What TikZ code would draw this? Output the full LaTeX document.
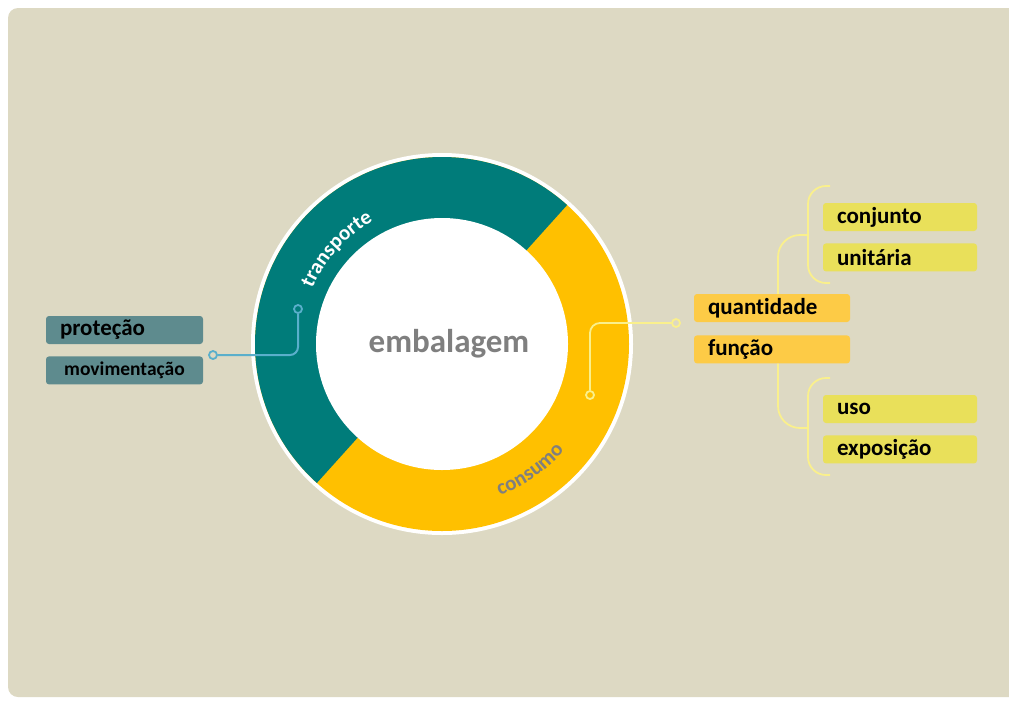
\documentclass[tikz,border=0pt]{standalone}
\usepackage{fontspec}
\setmainfont{Carlito}[Ligatures=NoCommon]
\usetikzlibrary{positioning,calc,decorations.text}

\definecolor{bgbeige}{HTML}{DDD9C3}
\definecolor{ringteal}{HTML}{007C7A}
\definecolor{ringgold}{HTML}{FFC000}
\definecolor{boxteal}{HTML}{5E8B8E}
\definecolor{boxgold}{HTML}{FDCB46}
\definecolor{boxlemon}{HTML}{E9E05A}
\definecolor{linkblue}{HTML}{5AAFCB}
\definecolor{linkyellow}{HTML}{FAF08C}
\definecolor{embgray}{HTML}{7F7F7F}

\newcommand{\ringfont}{\bfseries\fontsize{21}{21}\selectfont}

\begin{document}
\begin{tikzpicture}[
    x=1pt, y=-1pt,
    tealbox/.style={fill=boxteal, rounded corners=3pt, minimum height=28pt, inner ysep=0pt,
        inner xsep=14pt, text width=129pt, align=left, font=\bfseries\fontsize{23}{23}\selectfont},
    goldbox/.style={tealbox, fill=boxgold, text width=128pt},
    lemonbox/.style={tealbox, fill=boxlemon, text width=126pt},
    linkdot/.style={circle, draw, line width=1.8pt, inner sep=0pt, minimum size=8pt},
    blueline/.style={draw=linkblue, line width=2pt, rounded corners=8pt},
    yellowline/.style={draw=linkyellow, line width=1.8pt, rounded corners=10pt}
]
    % background
    \useasboundingbox (0,0) rectangle (1009,702);
    \fill[white] (0,0) rectangle (1009,702);
    \fill[bgbeige, rounded corners=10pt] (8,8) rectangle (1040,697);

    % ring
    \coordinate (c) at (442,344);
    \fill[white] (c) circle[radius=191];
    \fill[ringgold] (c) circle[radius=187];
    \fill[ringteal] (c) -- ($(c)+(-48:187)$) arc[start angle=-48, end angle=-228, radius=187] -- cycle;
    \fill[white] (c) circle[radius=126];

    \path[decorate, decoration={text along path, text={|\ringfont|transporte}, text align=center, text color=white}]
        ($(c)+(-178:141)$) arc[start angle=-178, end angle=-98, radius=141];
    \path[decorate, decoration={text along path, text={|\ringfont|consumo}, text align=center, text color=embgray}]
        ($(c)+(95:162)$) arc[start angle=95, end angle=15, radius=162];

    \node[font=\bfseries\fontsize{33}{33}\selectfont, text=embgray] (embal) at (449,344) {embalagem};

    % left side
    \node[tealbox] (protecao) at (124.5,330) {proteção};
    \node[tealbox, below=12pt of protecao, align=center, font=\bfseries\fontsize{19.5}{19.5}\selectfont] (movim) {movimentação};

    \node[linkdot, draw=linkblue] (bdot) at (213,355) {};
    \node[linkdot, draw=linkblue] (tdot) at (298,309) {};
    \draw[blueline] (bdot) -| (tdot);

    % right side
    \node[linkdot, draw=linkyellow] (qdot) at (676,323) {};
    \node[linkdot, draw=linkyellow] (cdot) at (590,395) {};
    \draw[yellowline] (qdot) -| (cdot);

    \node[goldbox] (quant) at (772,308) {quantidade};
    \node[goldbox, below=13pt of quant] (funcao) {função};

    \node[lemonbox] (conj) at (900,217) {conjunto};
    \node[lemonbox, below=12pt of conj] (unit) {unitária};
    \node[lemonbox] (uso) at (900,409) {uso};
    \node[lemonbox, below=12pt of uso] (expo) {exposição};

    % brackets
    \coordinate (ubr) at (808,235);
    \coordinate (lbr) at (808,428);
    \draw[yellowline, rounded corners=22pt] (778,0 |- quant.north) |- (ubr);
    \draw[yellowline, rounded corners=18pt] (830,186) -- (808,186) -- (808,283) -- (830,283);
    \draw[yellowline, rounded corners=22pt] (778,0 |- funcao.south) |- (lbr);
    \draw[yellowline, rounded corners=18pt] (830,378) -- (808,378) -- (808,475) -- (830,475);
\end{tikzpicture}
\end{document}
